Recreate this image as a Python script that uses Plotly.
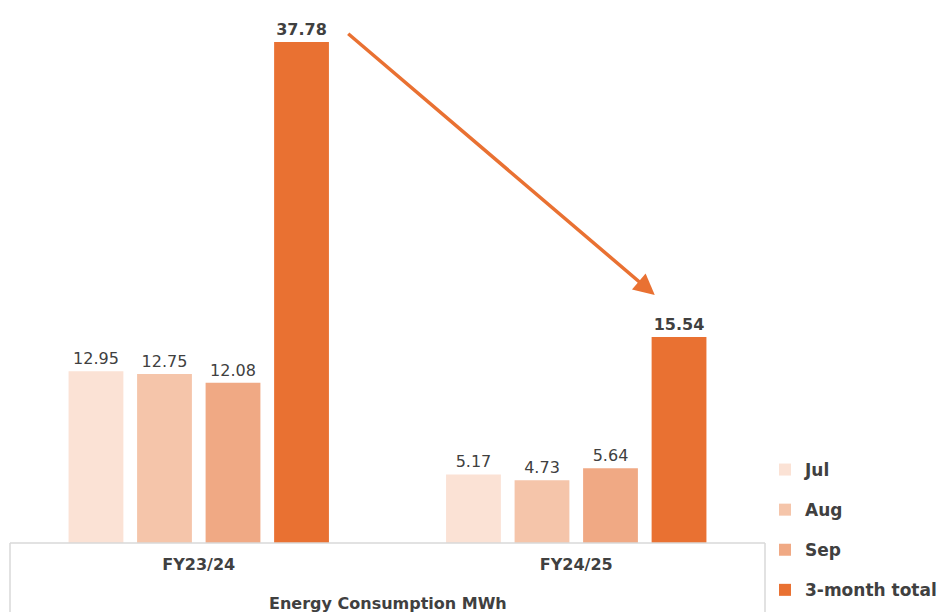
import plotly.graph_objects as go

categories = ["FY23/24", "FY24/25"]
series_names = ["Jul", "Aug", "Sep", "3-month total"]
jul = [12.95, 5.17]
aug = [12.75, 4.73]
sep = [12.08, 5.64]
total = [37.78, 15.54]
colors = ["#FBE2D5", "#F5C5AA", "#F0A984", "#E97132"]
axis_title = "Energy Consumption MWh"

FONT = "DejaVu Sans"
TXT = "#404040"

fig = go.Figure()
for i, (name, vals) in enumerate(zip(series_names, [jul, aug, sep, total])):
    bold = name == "3-month total"
    fig.add_trace(go.Bar(
        name=f"<b>{name}</b>", x=categories, y=vals,
        marker=dict(color=colors[i], line=dict(width=0)),
        text=[f"<b>{v:.2f}</b>" if bold else f"{v:.2f}" for v in vals],
        textposition="outside", cliponaxis=False,
        textfont=dict(family=FONT, size=16, color=TXT),
        legendgroup=name,
    ))

# arrow from FY23/24 total to FY24/25 total
fig.add_annotation(
    x=1.208, y=18.7, ax=0.392, ay=38.5,
    xref="x", yref="y", axref="x", ayref="y",
    text="", showarrow=True, arrowhead=2, arrowsize=1.2,
    arrowwidth=3.5, arrowcolor="#E97132", standoff=0,
)

# table-like border under the plot
bottom = -(612 - 543) / 543
for xp in [0, 1]:
    fig.add_shape(type="line", xref="paper", yref="paper",
                  x0=xp, x1=xp, y0=0, y1=bottom,
                  line=dict(color="#D9D9D9", width=1.5))
fig.add_shape(type="line", xref="paper", yref="paper",
              x0=0, x1=1, y0=0, y1=0, line=dict(color="#D9D9D9", width=1.5))

fig.add_annotation(
    x=0.5, y=-0.1105, xref="paper", yref="paper", yanchor="middle",
    text=f"<b>{axis_title}</b>", showarrow=False,
    font=dict(family=FONT, size=16, color=TXT),
)

fig.update_layout(
    width=943, height=612,
    margin=dict(l=10, r=178, t=0, b=69, autoexpand=False),
    paper_bgcolor="white", plot_bgcolor="white",
    barmode="group", bargap=0.274, bargroupgap=0.2,
    font=dict(family=FONT, color=TXT),
    xaxis=dict(
        range=[-0.5, 1.5], showline=False, showgrid=False, ticks="",
        tickvals=categories, ticktext=[f"<b>{c}</b>" for c in categories],
        tickfont=dict(family=FONT, size=16, color=TXT),
        ticklabelstandoff=10, automargin=False,
    ),
    yaxis=dict(range=[0, 40.95], visible=False, showgrid=False, automargin=False),
    legend=dict(
        x=1.0, xanchor="left", y=0.1676, yanchor="top",
        traceorder="grouped", tracegroupgap=15,
        font=dict(family=FONT, size=17, color=TXT),
        bgcolor="rgba(0,0,0,0)",
    ),
    showlegend=True,
)

fig.write_html("out.html")
